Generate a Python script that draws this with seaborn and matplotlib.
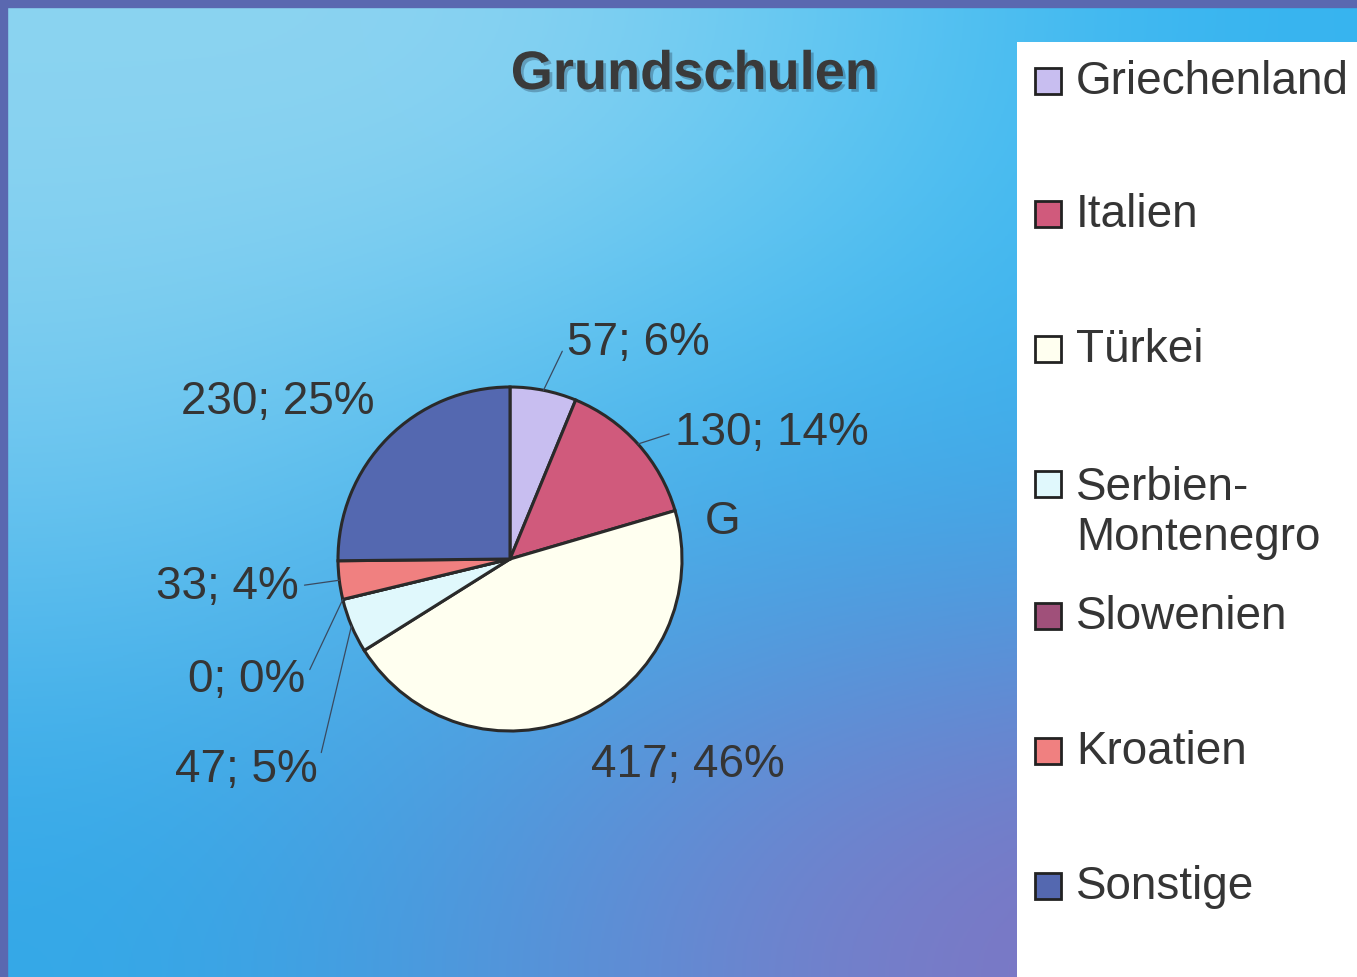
import numpy as np
import matplotlib
matplotlib.use("Agg")
import matplotlib.pyplot as plt
import matplotlib.patheffects as pe
import seaborn as sns
from matplotlib.colors import to_rgb
from matplotlib.patches import Rectangle

# Data
countries = ["Griechenland", "Italien", "Türkei", "Serbien-\nMontenegro",
             "Slowenien", "Kroatien", "Sonstige"]
pupils = [57, 130, 417, 47, 0, 33, 230]
percent_labels = ["6%", "14%", "46%", "5%", "0%", "4%", "25%"]
slice_colors = ["#C8BEF0", "#D05A7C", "#FFFFF0", "#E0F8FC",
                "#A0507A", "#F08080", "#5468B0"]

sns.set_theme(style="white")
plt.rcParams["font.family"] = ["Liberation Sans", "DejaVu Sans"]

fig = plt.figure(figsize=(13.57, 9.78), dpi=100)

# background gradient
bg = fig.add_axes([0, 0, 1, 1])
grid = [["#8CD4F0", "#8ED4F2", "#62C8F2", "#36B4F0"],
        ["#6CC6F0", "#44B8EE", "#32AEEC", "#3AAAEA"],
        ["#32A8E8", "#5294DA", "#7A7CC8", "#8070C0"]]
grid = np.array([[to_rgb(c) for c in row] for row in grid])
bg.imshow(grid, aspect="auto", interpolation="bicubic", extent=[0, 1, 0, 1])
bg.add_patch(Rectangle((0, 0.992), 1, 0.008, color="#5A68B0", transform=bg.transAxes))
bg.add_patch(Rectangle((0, 0), 0.0055, 1, color="#5A68B0", transform=bg.transAxes))
bg.add_patch(Rectangle((1017 / 1357, 0), 1, 1 - 43 / 978, facecolor="white",
                       edgecolor="none", transform=bg.transAxes))
bg.set_xlim(0, 1)
bg.set_ylim(0, 1)
bg.axis("off")

# pie
r_px = 172
cx, cy = 510, 560
ax = fig.add_axes([(cx - 2 * r_px) / 1357, (978 - cy - 2 * r_px) / 978,
                   4 * r_px / 1357, 4 * r_px / 978])
ax.set_facecolor("none")
wedges, _ = ax.pie(pupils, colors=slice_colors, startangle=90, counterclock=False,
                   wedgeprops=dict(edgecolor="#2a2a2a", linewidth=2.2))
ax.set_xlim(-2, 2)
ax.set_ylim(-2, 2)
ax.set_aspect("equal")
ax.axis("off")

# label positions in pie units (text anchor), leader or not
label_pos = [(0.33, 1.262, "left", True), (0.96, 0.738, "left", True),
             (1.035, -1.192, "center", False), (-1.12, -1.221, "right", True),
             (-1.19, -0.698, "right", True), (-1.23, -0.157, "right", True),
             (-1.349, 0.919, "center", False)]
for w, n, p, (lx, ly, ha, lead) in zip(wedges, pupils, percent_labels, label_pos):
    mid = np.deg2rad((w.theta1 + w.theta2) / 2)
    ex, ey = np.cos(mid), np.sin(mid)
    txt = f"{n}; {p}"
    if lead:
        relx = 0 if ha == "left" else 1
        ax.annotate(txt, xy=(ex, ey), xytext=(lx, ly), ha=ha, va="center",
                    fontsize=33, color="#353535",
                    arrowprops=dict(arrowstyle="-", color="#3a4a60", lw=0.9,
                                    shrinkA=2, shrinkB=0, relpos=(relx, 0.5)))
    else:
        ax.text(lx, ly, txt, ha=ha, va="center", fontsize=33, color="#353535")

ax.text(1.238, 0.221, "G", ha="center", va="center", fontsize=33, color="#353535")

# title with soft shadow
fig.text(694 / 1357, 1 - 76 / 978, "Grundschulen", ha="center", va="center",
         fontsize=39, fontweight="bold", color="#3a3a3a",
         path_effects=[pe.withSimplePatchShadow(offset=(2, -2), shadow_rgbFace="#1a2a40",
                                                alpha=0.3)])

# legend
legend_y = [82, 215, 350, 513, 617, 752, 887]
for name, col, y in zip(countries, slice_colors, legend_y):
    sy = y if "\n" not in name else 485
    bg.add_patch(Rectangle(((1035) / 1357, 1 - (sy + 13) / 978), 26 / 1357, 26 / 978,
                           facecolor=col, edgecolor="#222222", linewidth=2,
                           transform=bg.transAxes))
    bg.text(1076 / 1357, 1 - y / 978, name, ha="left", va="center", fontsize=33,
            color="#353535", linespacing=1.2, transform=bg.transAxes)

fig.savefig("out.png", dpi=100)
